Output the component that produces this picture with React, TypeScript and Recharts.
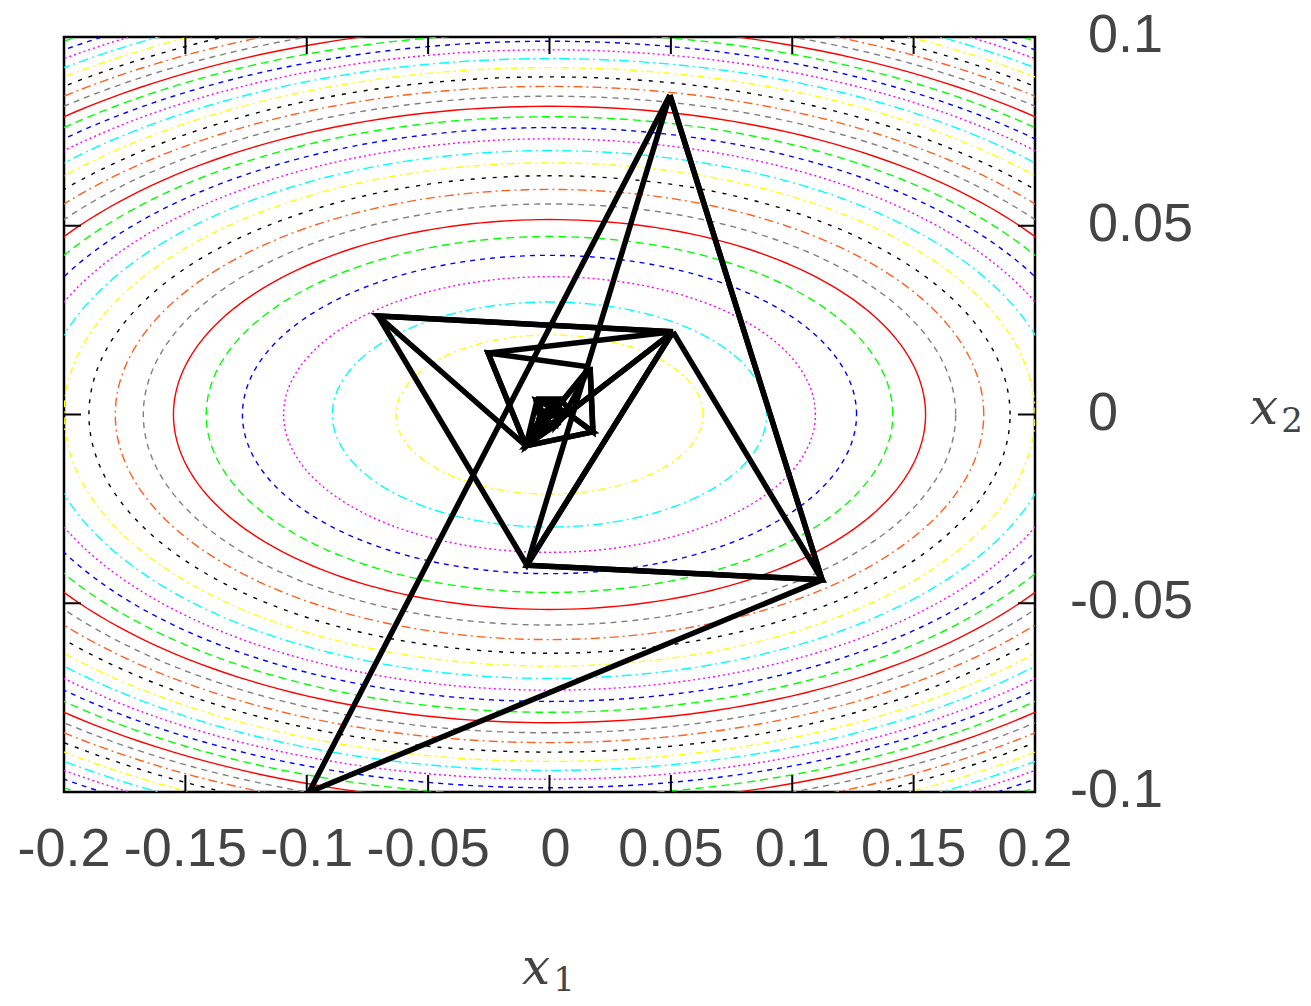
import React from "react";
import { ScatterChart, Scatter, XAxis, YAxis, ReferenceArea } from "recharts";

// axis ticks
const xTicks = [-0.2, -0.15, -0.1, -0.05, 0, 0.05, 0.1, 0.15, 0.2];
const xTickLabels = ["-0.2", "-0.15", "-0.1", "-0.05", "0", "0.05", "0.1", "0.15", "0.2"];
const yTicks = [-0.1, -0.05, 0, 0.05, 0.1];
const yTickLabels = ["-0.1", "-0.05", "0", "0.05", "0.1"];

// contour levels of f = x1^2 + 9 x2^2
const contourLevels = [
  0.004, 0.008, 0.012, 0.016, 0.02, 0.024, 0.028, 0.032, 0.036, 0.04, 0.044,
  0.048, 0.052, 0.056, 0.06, 0.064, 0.068, 0.072, 0.076, 0.08, 0.084, 0.088,
  0.092, 0.096, 0.1, 0.104, 0.108, 0.112, 0.116, 0.12, 0.124, 0.128, 0.132,
];
const x2Weight = 9;

// simplex vertices visited by the search
const simplexVertices = [
  { name: "A", x: 0.0496, y: 0.0846 },
  { name: "B", x: 0.1123, y: -0.0438 },
  { name: "C", x: -0.099, y: -0.1 },
  { name: "D", x: -0.0706, y: 0.0261 },
  { name: "E", x: 0.0509, y: 0.0219 },
  { name: "F", x: -0.0093, y: -0.0399 },
  { name: "G", x: -0.0253, y: 0.0163 },
  { name: "H", x: -0.0097, y: -0.0083 },
  { name: "I", x: 0.0167, y: 0.0126 },
  { name: "J", x: 0.0179, y: -0.0046 },
  { name: "K1", x: -0.0052, y: 0.0036 },
  { name: "K2", x: 0.0068, y: 0.0007 },
  { name: "K3", x: -0.0018, y: -0.0009 },
  { name: "K4", x: 0.001, y: 0.0028 },
  { name: "K5", x: 0.0035, y: 0.0009 },
  { name: "L1", x: -0.0056, y: 0.0041 },
  { name: "L2", x: 0.0043, y: 0.0041 },
  { name: "L3", x: 0.0027, y: -0.0028 },
  { name: "L4", x: -0.0039, y: -0.0009 },
  { name: "L5", x: 0.0084, y: 0.0012 },
];
const simplexSteps = [
  ["A", "B", "C"],
  ["A", "B", "F"],
  ["E", "B", "F"],
  ["E", "D", "F"],
  ["E", "D", "H"],
  ["E", "G", "H"],
  ["I", "G", "H"],
  ["I", "J", "H"],
  ["I", "J", "K2"],
  ["K2", "J", "H"],
  ["K2", "K1", "H"],
  ["K2", "K1", "K3"],
  ["K4", "K1", "K3"],
  ["K4", "K5", "K3"],
  ["L1", "L2", "L4"],
  ["L2", "L4", "L3"],
  ["L2", "L5", "L3"],
  ["L1", "K4", "L4"],
  ["L4", "L3", "H"],
];

const contourStyles = [
  { stroke: "#ffff00", dash: "7 4 2 4" },
  { stroke: "#00ffff", dash: "10 4 2 4" },
  { stroke: "#ff00ff", dash: "2 3" },
  { stroke: "#0000ff", dash: "5 5" },
  { stroke: "#00ff00", dash: "8 5" },
  { stroke: "#ff0000", dash: undefined },
  { stroke: "#808080", dash: "6 5" },
  { stroke: "#ff5f1f", dash: "9 4 2 4" },
  { stroke: "#000000", dash: "4 7" },
];

const PLOT_TOP = 37;
const PLOT_LEFT = 64;
const PLOT_RIGHT = 1035;
const PLOT_BOTTOM = 792;
const TICK_LEN = 17;
const TEXT = "#444444";
const FONT = "'Liberation Sans', Arial, Helvetica, sans-serif";
const SERIF = "'DejaVu Serif', 'Liberation Serif', serif";

function ellipse(level: number) {
  const a = Math.sqrt(level);
  const b = Math.sqrt(level / x2Weight);
  const pts = [];
  for (let i = 0; i <= 240; i++) {
    const t = (i / 240) * Math.PI * 2;
    pts.push({ x: a * Math.cos(t), y: b * Math.sin(t) });
  }
  return pts;
}

const vertexOf = (n: string) => simplexVertices.find((v) => v.name === n)!;

const XTick = (props: any) => {
  const { x, index } = props;
  return (
    <g>
      <line x1={x} x2={x} y1={PLOT_BOTTOM} y2={PLOT_BOTTOM - TICK_LEN} stroke="#000" strokeWidth={2} />
      <line x1={x} x2={x} y1={PLOT_TOP} y2={PLOT_TOP + TICK_LEN} stroke="#000" strokeWidth={2} />
      <text x={x + (xTickLabels[index] === "0" ? 6 : 0)} y={PLOT_BOTTOM + 74} textAnchor="middle" fontSize={54} fontFamily={FONT} fill={TEXT}>
        {xTickLabels[index]}
      </text>
    </g>
  );
};

const YTick = (props: any) => {
  const { y, index } = props;
  const label = yTickLabels[index];
  const neg = label.startsWith("-");
  return (
    <g>
      <line x1={PLOT_RIGHT} x2={PLOT_RIGHT - TICK_LEN} y1={y} y2={y} stroke="#000" strokeWidth={2} />
      <line x1={PLOT_LEFT} x2={PLOT_LEFT + TICK_LEN} y1={y} y2={y} stroke="#000" strokeWidth={2} />
      <text x={neg ? 1070 : 1088} y={y + 15} textAnchor="start" fontSize={54} fontFamily={FONT} fill={TEXT}>
        {label}
      </text>
    </g>
  );
};

const noDot = () => <g />;

export default function App() {
  return (
    <div style={{ position: "absolute", left: 0, top: 0, width: 1311, height: 1006, background: "#fff" }}>
      <ScatterChart
        width={1311}
        height={1006}
        margin={{ top: PLOT_TOP, right: 216, bottom: 154, left: PLOT_LEFT }}
      >
        <XAxis
          type="number"
          dataKey="x"
          domain={[-0.2, 0.2]}
          ticks={xTicks}
          allowDataOverflow
          height={60}
          tickSize={0}
          tickMargin={0}
          axisLine={false}
          tickLine={false}
          tick={<XTick />}
          interval={0}
        />
        <YAxis
          type="number"
          dataKey="y"
          orientation="right"
          domain={[-0.1, 0.1]}
          ticks={yTicks}
          allowDataOverflow
          width={60}
          tickSize={0}
          tickMargin={0}
          axisLine={false}
          tickLine={false}
          tick={<YTick />}
          interval={0}
        />
        {contourLevels.map((lv, i) => {
          const st = contourStyles[i % contourStyles.length];
          return (
            <Scatter
              key={"c" + i}
              data={ellipse(lv)}
              fill={st.stroke}
              shape={noDot}
              line={{ stroke: st.stroke, strokeWidth: 1.4, strokeDasharray: st.dash }}
              isAnimationActive={false}
            />
          );
        })}
        {simplexSteps.map((tri, i) => {
          const pts = [...tri, tri[0]].map((n) => {
            const v = vertexOf(n);
            return { x: v.x, y: v.y };
          });
          return (
            <Scatter
              key={"s" + i}
              data={pts}
              fill="#000"
              shape={noDot}
              line={{ stroke: "#000", strokeWidth: 5.5, strokeLinejoin: "miter" }}
              isAnimationActive={false}
            />
          );
        })}
        <ReferenceArea x1={-0.2} x2={0.2} y1={-0.1} y2={0.1} fill="none" stroke="#000" strokeWidth={2.5} ifOverflow="visible" />
      </ScatterChart>
      <svg width={1311} height={1006} style={{ position: "absolute", left: 0, top: 0, pointerEvents: "none" }}>
        <text x={522} y={984} fontFamily={SERIF} fontSize={50} fill={TEXT}>
          <tspan fontStyle="italic">x</tspan>
          <tspan fontSize={34} dx={3} dy={7}>1</tspan>
        </text>
        <text x={1250} y={424} fontFamily={SERIF} fontSize={50} fill={TEXT}>
          <tspan fontStyle="italic">x</tspan>
          <tspan fontSize={34} dx={3} dy={8}>2</tspan>
        </text>
      </svg>
    </div>
  );
}
